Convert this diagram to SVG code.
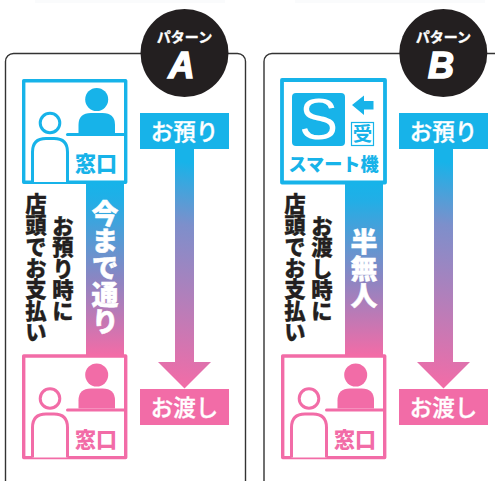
<svg xmlns="http://www.w3.org/2000/svg" width="495" height="481" viewBox="0 0 495 481">
<style>
text{font-family:"Noto Sans CJK JP","Noto Sans",sans-serif}
.panel{fill:#fff;stroke:#333;stroke-width:1.4}
.badge{fill:#231f20}
.badgeS{fill:#fff;stroke:#fff;stroke-width:.35;font-size:14px;font-weight:700;text-anchor:middle}
.badgeL{fill:#fff;stroke:#fff;stroke-width:1.600;font-family:"Liberation Sans",Arial,sans-serif;font-size:36px;font-weight:700;font-style:italic;text-anchor:middle}
.lab{fill:#fff;stroke:#fff;stroke-width:.35;font-size:22.5px;font-weight:500;text-anchor:middle}
.vw{fill:#fff;stroke:#fff;stroke-width:.5;font-size:27px;font-weight:900;writing-mode:vertical-rl}
.vd{fill:#231f20;stroke:#231f20;stroke-width:.3;font-size:21.4px;font-weight:900;writing-mode:vertical-rl}
.win{font-size:21px;font-weight:900;text-anchor:middle}
.blue{color:#17b3e9;fill:#17b3e9}
.pink{color:#f26ca7;fill:#f26ca7}
</style>
<defs>
<linearGradient id="barA" gradientUnits="userSpaceOnUse" x1="0" y1="184" x2="0" y2="355"><stop offset="0" stop-color="#17b3e9"/><stop offset="0.1" stop-color="#22aee6"/><stop offset="0.55" stop-color="#8a86c3"/><stop offset="1" stop-color="#f26ca7"/></linearGradient>
<linearGradient id="arrA" gradientUnits="userSpaceOnUse" x1="205" y1="165" x2="170" y2="385"><stop offset="0" stop-color="#17b3e9"/><stop offset="0.28" stop-color="#7d8fcb"/><stop offset="1" stop-color="#f26ca7"/></linearGradient>
<linearGradient id="arrB" gradientUnits="userSpaceOnUse" x1="464" y1="165" x2="429" y2="385"><stop offset="0" stop-color="#17b3e9"/><stop offset="0.28" stop-color="#7d8fcb"/><stop offset="1" stop-color="#f26ca7"/></linearGradient>
<g id="people" fill="currentColor" stroke="none">
<circle cx="96.7" cy="99.5" r="11.5"/>
<path d="M78.5 133V125Q78.5 113 91 113H102.500Q115 113 115 125V133Z"/>
<path d="M67.500 134.500H125" fill="none" stroke="currentColor" stroke-width="3" stroke-linecap="round"/>
<circle cx="50" cy="123" r="9.800" fill="#fff" stroke="currentColor" stroke-width="3"/>
<path d="M32.500 182V152Q32.500 138.500 46 138.500H54Q67.500 138.500 67.500 152V182" fill="#fff" stroke="currentColor" stroke-width="3"/>
</g>
</defs>

<rect x="35" y="0" width="190" height="3" fill="#fafbfc"/>
<rect x="295" y="0" width="190" height="3" fill="#fafbfc"/>

<g id="panel-a"><rect class="panel" x="5.500" y="53.500" width="240" height="440" rx="8"/></g>
<g id="panel-b"><rect class="panel" x="264" y="53.500" width="260" height="440" rx="8"/></g>

<g id="connectors">
<rect x="86" y="183" width="38" height="172" fill="url(#barA)"/>
<rect x="345" y="183" width="38" height="172" fill="url(#barA)"/>
<path d="M175 149H194V362H211L184.500 388.500L158 362H175Z" fill="url(#arrA)"/>
<path d="M434 149H453V362H470L443.500 388.500L417 362H434Z" fill="url(#arrB)"/>
</g>

<g id="badge-a"><circle class="badge" cx="184.500" cy="53" r="44"/><text class="badgeS" x="184.500" y="42">パターン</text><text class="badgeL" x="181.500" y="77.500">A</text></g>
<g id="badge-b"><circle class="badge" cx="443.300" cy="53" r="44"/><text class="badgeS" x="443.300" y="42">パターン</text><text class="badgeL" x="441" y="77.500">B</text></g>

<g id="window-a-top">
<rect x="23.700" y="80.700" width="102" height="101.600" fill="#fff" stroke="#17b3e9" stroke-width="3.400" stroke-linejoin="round"/>
<use href="#people" class="blue"/>
<text class="win blue" x="96" y="171">窓口</text>
</g>
<g id="window-a-bottom">
<rect x="23.700" y="356" width="102" height="101.600" fill="#fff" stroke="#f26ca7" stroke-width="3.400" stroke-linejoin="round"/>
<use href="#people" class="pink" y="275.500"/>
<text class="win pink" x="96" y="446.500">窓口</text>
</g>
<g id="window-b-bottom">
<rect x="282.700" y="356" width="102" height="101.600" fill="#fff" stroke="#f26ca7" stroke-width="3.400" stroke-linejoin="round"/>
<use href="#people" class="pink" x="259" y="275.500"/>
<text class="win pink" x="355" y="447">窓口</text>
</g>

<g id="smart-machine">
<rect x="282" y="80" width="103" height="102.500" fill="#fff" stroke="#17b3e9" stroke-width="3.800" stroke-linejoin="round"/>
<rect x="292" y="93" width="53" height="53" rx="4" fill="#17b3e9"/>
<text x="318.500" y="139" font-size="58" text-anchor="middle" fill="#fff" style="font-family:'Liberation Sans',Arial,sans-serif">S</text>
<path d="M352 105L364 95.500V101H373.500V109.500H364V115Z" fill="#17b3e9"/>
<rect x="351.500" y="122.500" width="22" height="23" fill="#fff" stroke="#17b3e9" stroke-width="1.200"/>
<text x="362.500" y="141" font-size="19.500" font-weight="700" text-anchor="middle" fill="#17b3e9">受</text>
<text x="333.500" y="170.500" font-size="18" font-weight="900" text-anchor="middle" fill="#17b3e9" textLength="90" lengthAdjust="spacingAndGlyphs">スマート機</text>
</g>

<g id="labels-a">
<rect x="140" y="113" width="89" height="36" fill="#17b3e9"/><text class="lab" x="184.500" y="139.500">お預り</text>
<rect x="140" y="389" width="89" height="36" fill="#f26ca7"/><text class="lab" x="184.500" y="415.500">お渡し</text>
</g>
<g id="labels-b">
<rect x="399" y="113" width="89" height="36" fill="#17b3e9"/><text class="lab" x="443.500" y="139.500">お預り</text>
<rect x="399" y="389" width="89" height="36" fill="#f26ca7"/><text class="lab" x="443.500" y="415.500">お渡し</text>
</g>

<g id="text-a">
<text class="vw" x="105" y="200">今まで通り</text>
<text class="vd" x="36" y="193">店頭でお支払い</text>
<text class="vd" x="63" y="215">お預り時に</text>
</g>
<g id="text-b">
<text class="vw" x="364" y="228">半無人</text>
<text class="vd" x="295" y="193">店頭でお支払い</text>
<text class="vd" x="322" y="215">お渡し時に</text>
</g>
</svg>
